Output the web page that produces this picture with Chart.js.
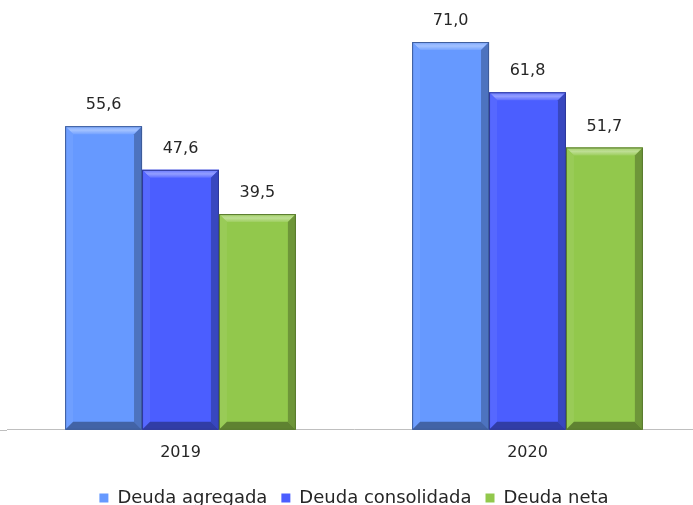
<!DOCTYPE html>
<html>
<head>
<meta charset="utf-8">
<script src="https://cdn.jsdelivr.net/npm/chart.js@4"></script>
<style>
  html, body { margin: 0; padding: 0; background: #fff; overflow: hidden; }
  #wrap { width: 693px; height: 505px; overflow: hidden; }
</style>
</head>
<body>
<div id="wrap"><canvas id="debtChart" width="715" height="505"></canvas></div>
<script>
// ===== DATA =====
const YEARS = ['2019', '2020'];
const DEUDA_AGREGADA = [55.6, 71.0];
const DEUDA_CONSOLIDADA = [47.6, 61.8];
const DEUDA_NETA = [39.5, 51.7];
const SERIES_NAMES = ['Deuda agregada', 'Deuda consolidada', 'Deuda neta'];

const FONT = "'DejaVu Sans', sans-serif";

function shade(hex, amt) {
  const n = parseInt(hex.slice(1), 16);
  let r = (n >> 16) & 255, g = (n >> 8) & 255, b = n & 255;
  const f = v => Math.max(0, Math.min(255, Math.round(amt >= 0 ? v + (255 - v) * amt : v * (1 + amt))));
  return `rgb(${f(r)},${f(g)},${f(b)})`;
}

// bevel look on every bar
const bevelPlugin = {
  id: 'bevel',
  afterDatasetsDraw(chart) {
    const ctx = chart.ctx;
    chart.data.datasets.forEach((ds, i) => {
      chart.getDatasetMeta(i).data.forEach(bar => {
        const l = bar.x - bar.width / 2, r = bar.x + bar.width / 2;
        const t = bar.y, btm = bar.base, b = 8;
        const c = ds.backgroundColor;
        const poly = (pts, fill) => {
          ctx.beginPath();
          ctx.moveTo(pts[0][0], pts[0][1]);
          pts.slice(1).forEach(p => ctx.lineTo(p[0], p[1]));
          ctx.closePath();
          ctx.fillStyle = fill;
          ctx.fill();
        };
        ctx.save();
        const top = ctx.createLinearGradient(0, t, 0, t + b);
        top.addColorStop(0, shade(c, 0.15));
        top.addColorStop(0.5, shade(c, 0.4));
        top.addColorStop(1, shade(c, 0.1));
        poly([[l, t], [r, t], [r - b, t + b], [l + b, t + b]], top);
        poly([[l, t], [l + b, t + b], [l + b, btm - b], [l, btm]], shade(c, 0.06));
        poly([[r, t], [r, btm], [r - b, btm - b], [r - b, t + b]], shade(c, -0.25));
        poly([[l, btm], [l + b, btm - b], [r - b, btm - b], [r, btm]], shade(c, -0.35));
        ctx.strokeStyle = shade(c, -0.4);
        ctx.lineWidth = 1;
        ctx.strokeRect(l + 0.5, t + 0.5, r - l - 1, btm - t - 1);
        ctx.restore();
      });
    });
  }
};

// value labels above bars + axis line running to the left edge
const valueLabels = {
  id: 'valueLabels',
  afterDatasetsDraw(chart) {
    const ctx = chart.ctx;
    const area = chart.chartArea;
    ctx.save();
    ctx.strokeStyle = '#BFBFBF';
    ctx.lineWidth = 1;
    ctx.beginPath();
    ctx.moveTo(0, Math.round(area.bottom) + 0.5);
    ctx.lineTo(area.left, Math.round(area.bottom) + 0.5);
    ctx.stroke();
    ctx.font = `16px ${FONT}`;
    ctx.fillStyle = '#262626';
    ctx.textAlign = 'center';
    ctx.textBaseline = 'bottom';
    chart.data.datasets.forEach((ds, i) => {
      chart.getDatasetMeta(i).data.forEach((bar, j) => {
        ctx.fillText(ds.data[j].toFixed(1).replace('.', ','), bar.x, bar.y - 13);
      });
    });
    ctx.restore();
  }
};

const ctx = document.getElementById('debtChart').getContext('2d');
new Chart(ctx, {
  type: 'bar',
  data: {
    labels: YEARS,
    datasets: [
      { label: SERIES_NAMES[0], data: DEUDA_AGREGADA, backgroundColor: '#6699FF' },
      { label: SERIES_NAMES[1], data: DEUDA_CONSOLIDADA, backgroundColor: '#4B5EFF' },
      { label: SERIES_NAMES[2], data: DEUDA_NETA, backgroundColor: '#92C84C' }
    ]
  },
  options: {
    responsive: false,
    animation: false,
    devicePixelRatio: 1,
    layout: { padding: { left: 7, right: 14, top: 0, bottom: -12 } },
    datasets: { bar: { barPercentage: 1, categoryPercentage: 0.665 } },
    plugins: {
      legend: {
        position: 'bottom',
        labels: {
          font: { family: FONT, size: 18 },
          color: '#262626',
          boxWidth: 9,
          boxHeight: 9,
          padding: 14
        }
      },
      tooltip: { enabled: false }
    },
    scales: {
      x: {
        grid: { display: false, drawTicks: false },
        border: { color: '#BFBFBF', width: 1 },
        ticks: { font: { family: FONT, size: 16 }, color: '#262626', padding: 13 }
      },
      y: {
        min: 0,
        max: 78.7,
        display: false
      }
    }
  },
  plugins: [bevelPlugin, valueLabels]
});
</script>
</body>
</html>
